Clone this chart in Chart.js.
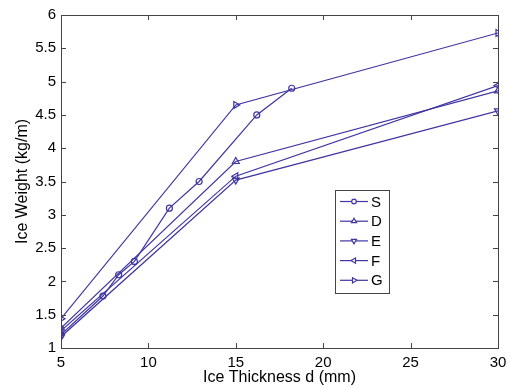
<!DOCTYPE html>
<html lang="en">
<head>
    <meta charset="UTF-8">
    <title>Ice Weight vs Ice Thickness</title>
    <script src="https://cdn.jsdelivr.net/npm/chart.js"></script>
    <style>
        body {
            margin: 0;
            padding: 0;
            background-color: #ffffff;
        }

        .chart-container {
            width: 508px;
            height: 387px;
            position: relative;
        }
    </style>
</head>
<body>
    <div class="chart-container">
        <canvas id="iceChart"></canvas>
    </div>

    <script>
        // values
        const seriesNames = ['S', 'D', 'E', 'F', 'G'];

        const sThickness = [5, 7.4, 8.3, 9.2, 11.2, 12.9, 16.2, 18.2];
        const sWeight = [1.2, 1.78, 2.1, 2.3, 3.1, 3.5, 4.5, 4.9];

        const dThickness = [5, 15, 30];
        const dWeight = [1.3, 3.8, 4.86];

        const eThickness = [5, 15, 30];
        const eWeight = [1.17, 3.52, 4.56];

        const fThickness = [5, 15, 30];
        const fWeight = [1.26, 3.58, 4.94];

        const gThickness = [5, 15, 30];
        const gWeight = [1.44, 4.65, 5.73];

        const xTicks = [5, 10, 15, 20, 25, 30];
        const yTicks = [1, 1.5, 2, 2.5, 3, 3.5, 4, 4.5, 5, 5.5, 6];

        const lineColor = '#3f35a3';
        const axisColor = '#444444';
        const fontFamily = '"Liberation Sans", Arial, sans-serif';

        const toPoints = (xs, ys) => xs.map((x, i) => ({ x: x, y: ys[i] }));

        const markers = [
            { style: 'circle', rotation: 0, radius: 3 },
            { style: 'triangle', rotation: 0, radius: 4 },
            { style: 'triangle', rotation: 180, radius: 4 },
            { style: 'triangle', rotation: 270, radius: 4 },
            { style: 'triangle', rotation: 90, radius: 4 }
        ];

        const allData = [
            toPoints(sThickness, sWeight),
            toPoints(dThickness, dWeight),
            toPoints(eThickness, eWeight),
            toPoints(fThickness, fWeight),
            toPoints(gThickness, gWeight)
        ];

        const datasets = seriesNames.map((name, i) => ({
            label: name,
            data: allData[i],
            showLine: true,
            borderColor: lineColor,
            borderWidth: 1.2,
            backgroundColor: 'rgba(0,0,0,0)',
            pointStyle: markers[i].style,
            pointRotation: markers[i].rotation,
            pointRadius: markers[i].radius,
            pointBorderColor: lineColor,
            pointBorderWidth: 1.2,
            fill: false
        }));

        // inward ticks on all four sides plus the box, matlab style
        const boxPlugin = {
            id: 'boxTicks',
            afterDraw(chart) {
                const ctx = chart.ctx;
                const a = chart.chartArea;
                const xs = chart.scales.x;
                const ys = chart.scales.y;
                const len = 5;
                ctx.save();
                ctx.strokeStyle = axisColor;
                ctx.lineWidth = 1;
                ctx.beginPath();
                xTicks.forEach(v => {
                    const px = Math.round(xs.getPixelForValue(v)) + 0.5;
                    ctx.moveTo(px, a.bottom);
                    ctx.lineTo(px, a.bottom - len);
                    ctx.moveTo(px, a.top);
                    ctx.lineTo(px, a.top + len);
                });
                yTicks.forEach(v => {
                    const py = Math.round(ys.getPixelForValue(v)) + 0.5;
                    ctx.moveTo(a.left, py);
                    ctx.lineTo(a.left + len, py);
                    ctx.moveTo(a.right, py);
                    ctx.lineTo(a.right - len, py);
                });
                ctx.stroke();
                ctx.strokeRect(Math.round(a.left) + 0.5, Math.round(a.top) + 0.5,
                    Math.round(a.right - a.left), Math.round(a.bottom - a.top));
                ctx.restore();
            }
        };

        // legend box inside the plot
        const legendPlugin = {
            id: 'insideLegend',
            afterDraw(chart) {
                const ctx = chart.ctx;
                const a = chart.chartArea;
                const left = a.left + 274;
                const top = a.top + 175;
                const w = 54;
                const h = 103;
                ctx.save();
                ctx.fillStyle = '#ffffff';
                ctx.fillRect(left, top, w, h);
                ctx.strokeStyle = axisColor;
                ctx.lineWidth = 1;
                ctx.strokeRect(left + 0.5, top + 0.5, w, h);
                chart.data.datasets.forEach((ds, i) => {
                    const y = top + 11.5 + i * 19.7;
                    ctx.strokeStyle = lineColor;
                    ctx.lineWidth = 1.2;
                    ctx.beginPath();
                    ctx.moveTo(left + 5, y);
                    ctx.lineTo(left + 33, y);
                    ctx.stroke();
                    ctx.fillStyle = '#ffffff';
                    Chart.helpers.drawPoint(ctx, {
                        pointStyle: ds.pointStyle,
                        rotation: ds.pointRotation,
                        radius: ds.pointStyle === 'circle' ? 2.3 : 3,
                        borderWidth: 1.2
                    }, left + 19, y);
                    ctx.fillStyle = '#000000';
                    ctx.font = '15px ' + fontFamily;
                    ctx.textBaseline = 'middle';
                    ctx.fillText(ds.label, left + 36, y + 1);
                });
                ctx.restore();
            }
        };

        const ctx = document.getElementById('iceChart').getContext('2d');
        const iceChart = new Chart(ctx, {
            type: 'scatter',
            data: { datasets: datasets },
            options: {
                responsive: true,
                maintainAspectRatio: false,
                animation: false,
                layout: {
                    padding: { top: 15, right: 10, left: 0, bottom: 0 }
                },
                scales: {
                    x: {
                        type: 'linear',
                        min: 5,
                        max: 30,
                        afterBuildTicks: scale => {
                            scale.ticks = xTicks.map(v => ({ value: v }));
                        },
                        afterFit: scale => {
                            scale.height = 39;
                            scale.paddingLeft = 0;
                            scale.paddingRight = 0;
                        },
                        grid: { display: false, drawTicks: false },
                        border: { display: false },
                        ticks: {
                            color: '#000000',
                            padding: 6,
                            maxRotation: 0,
                            callback: v => String(v),
                            font: { family: fontFamily, size: 15 }
                        },
                        title: {
                            display: true,
                            text: 'Ice Thickness d (mm)',
                            color: '#000000',
                            padding: { top: 0, bottom: 0 },
                            font: { family: fontFamily, size: 16 }
                        }
                    },
                    y: {
                        type: 'linear',
                        min: 1,
                        max: 6,
                        afterBuildTicks: scale => {
                            scale.ticks = yTicks.map(v => ({ value: v }));
                        },
                        afterFit: scale => { scale.width = 61; },
                        grid: { display: false, drawTicks: false },
                        border: { display: false },
                        ticks: {
                            color: '#000000',
                            padding: 5,
                            callback: v => String(v),
                            font: { family: fontFamily, size: 15 }
                        },
                        title: {
                            display: true,
                            text: 'Ice Weight (kg/m)',
                            color: '#000000',
                            padding: { top: 13, bottom: 0 },
                            font: { family: fontFamily, size: 16 }
                        }
                    }
                },
                plugins: {
                    legend: { display: false },
                    tooltip: { enabled: false }
                }
            },
            plugins: [boxPlugin, legendPlugin]
        });
    </script>
</body>
</html>
